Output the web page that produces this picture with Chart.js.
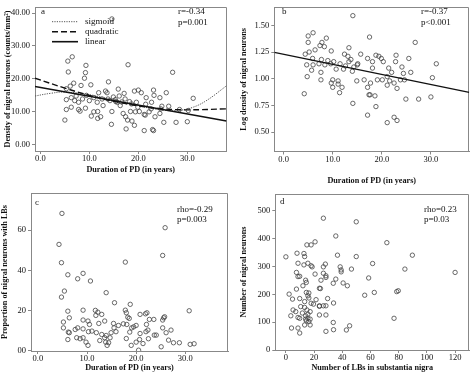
<!DOCTYPE html>
<html>
<head>
<meta charset="utf-8">
<script src="https://cdn.jsdelivr.net/npm/chart.js@4.4.0/dist/chart.umd.min.js"></script>
<style>
  body { margin: 0; background: #fff; width: 474px; height: 373px; position: relative; overflow: hidden; }
  canvas { position: absolute; }
</style>
</head>
<body>
<canvas id="chartA" width="237" height="186" style="left:0;top:0"></canvas>
<canvas id="chartB" width="237" height="186" style="left:237px;top:0"></canvas>
<canvas id="chartC" width="237" height="187" style="left:0;top:186px"></canvas>
<canvas id="chartD" width="237" height="187" style="left:237px;top:186px"></canvas>
<script>
// ---- DATA ----
// (a) duration of PD vs density of nigral neurons
const aDuration = [14.6,6.5,5.6,5.7,9.3,9.2,9.0,17.9,27.0,6.8,8.3,10.3,13.9,5.3,6.1,15.9,17.1,19.2,20.0,20.6,23.1,25.7,5.3,6.3,7.0,7.8,8.6,9.4,10.0,10.9,11.6,12.6,13.3,13.6,13.8,14.9,15.3,15.4,16.6,17.3,18.2,18.6,19.6,21.6,23.2,24.4,31.2,5.3,6.3,8.1,9.2,10.4,10.9,11.7,11.7,12.3,12.8,14.6,16.3,16.9,17.4,17.8,18.4,18.7,19.4,20.2,21.2,21.4,22.2,22.6,23.4,24.4,24.6,24.8,26.2,28.4,5.0,17.5,19.2,21.2,22.9,23.1,14.5,25.2,27.7,30.0,30.2,7.3,11.9,14.2,15.7,19.9,21.5,22.7,16.1,7.8];
const aDensity = [38.2,26.7,25.4,22.1,24.1,21.9,20.2,24.3,22.0,18.7,18.0,18.2,19.1,17.0,17.8,16.9,15.6,16.3,16.6,15.8,16.6,15.8,13.7,14.3,13.4,12.9,13.9,15.0,13.4,14.3,12.9,13.9,16.3,15.8,13.9,14.5,13.7,13.1,13.0,13.9,13.1,12.4,12.9,14.3,15.0,14.3,14.1,10.7,11.4,10.2,11.1,8.7,10.0,10.1,8.0,8.5,11.9,10.1,11.9,9.5,8.5,7.5,10.1,7.2,10.0,10.1,9.2,9.0,10.0,10.9,8.5,9.5,10.9,11.7,11.7,10.7,7.5,4.8,5.9,4.3,4.6,4.3,6.2,6.8,6.8,7.0,10.4,14.8,15.8,13.4,12.9,11.4,12.3,12.9,14.8,10.7];
// fitted curves
const aLinearX = [-1.1, 38];
const aLinearY = [17.7, 7.2];
const aQuadX = [-1.1, 5, 10, 15, 20, 25, 30, 38];
const aQuadY = [20.2, 17.2, 15.0, 13.2, 11.8, 10.9, 10.6, 10.9];
const aSigX = [-1.1, 2, 5, 10, 15, 20, 25, 28, 31, 34, 38];
const aSigY = [14.8, 15.6, 16.0, 15.2, 13.6, 11.8, 10.5, 10.4, 11.3, 13.5, 17.9];

// (b) duration vs log density
const bDuration = [14.1,5.0,6.0,8.7,17.5,26.8,5.0,7.4,7.8,8.3,13.3,4.4,5.2,6.4,9.7,12.4,13.1,15.7,18.8,19.4,19.9,22.9,25.5,5.9,7.7,9.0,13.3,13.7,17.1,18.1,20.3,22.8,31.1,4.7,6.0,7.2,8.4,9.6,10.2,11.5,12.6,14.3,15.0,15.1,21.4,24.1,5.7,7.6,10.7,12.2,14.0,18.1,22.0,25.9,24.4,4.8,7.6,10.0,11.1,14.9,16.4,17.7,19.1,20.1,21.1,21.6,22.5,23.8,24.6,30.3,9.7,11.1,10.0,11.9,17.1,21.1,23.1,4.2,11.4,17.4,17.6,18.6,24.9,27.5,30.0,14.1,18.8,17.1,22.5,21.1,23.1];
const bLogDensity = [1.59,1.40,1.43,1.38,1.39,1.34,1.34,1.31,1.34,1.30,1.29,1.23,1.25,1.27,1.26,1.23,1.21,1.23,1.22,1.21,1.19,1.22,1.19,1.19,1.18,1.17,1.16,1.18,1.19,1.16,1.16,1.16,1.14,1.13,1.13,1.14,1.13,1.14,1.16,1.14,1.12,1.11,1.13,1.14,1.10,1.11,1.08,1.06,1.09,1.09,1.07,1.10,1.06,1.06,1.05,1.02,0.99,0.99,0.98,0.98,0.99,0.96,0.99,0.99,1.02,0.98,0.96,0.99,0.99,1.01,0.96,0.95,0.92,0.92,0.92,0.94,0.91,0.86,0.87,0.85,0.85,0.84,0.81,0.81,0.83,0.77,0.74,0.66,0.64,0.59,0.61];
const bFitX = [-1.9, 37.8];
const bFitY = [1.246, 0.873];

// (c) duration vs proportion of neurons with LBs
const cDuration = [4.9,25.9,4.3,25.4,4.8,17.8,9.2,6.1,8.1,10.7,5.4,13.9,4.8,15.6,18.8,6.1,9.2,11.7,17.8,22.2,30.8,18.0,18.3,11.8,13.0,12.2,20.8,21.9,25.6,25.8,6.4,18.6,22.7,23.6,9.2,25.4,5.2,10.2,13.6,15.4,17.4,18.1,10.5,12.4,16.4,20.0,22.1,5.2,8.1,9.2,7.6,15.5,19.1,19.5,25.4,27.1,6.2,6.4,10.3,11.0,11.9,14.9,15.9,18.7,22.0,22.4,26.1,20.8,13.0,13.9,23.7,24.1,7.9,8.6,9.2,6.1,12.6,13.6,14.7,18.0,20.7,22.5,26.6,13.8,14.4,20.0,21.4,9.8,10.2,14.1,19.0,27.6,28.8,31.0,31.8,25.1,20.5];
const cProportion = [68.3,61.2,52.9,47.4,43.8,44.1,38.5,37.8,35.8,34.7,29.7,28.9,26.7,23.9,23.1,19.7,20.2,20.1,20.2,18.9,19.9,18.9,16.7,17.6,18.1,19.2,18.1,18.4,16.4,16.9,16.4,16.1,15.6,15.6,15.3,15.3,14.3,14.8,14.8,13.6,13.4,13.1,13.1,13.6,12.6,12.6,13.1,11.4,11.4,10.9,10.6,11.4,11.4,11.9,11.4,10.3,9.3,9.0,9.5,9.8,9.0,9.0,9.5,9.3,9.5,10.3,9.0,8.6,8.1,7.6,7.8,7.8,6.5,6.0,6.5,5.6,5.1,6.5,6.5,6.1,5.6,6.0,5.3,4.3,4.0,4.3,3.6,4.3,2.7,2.7,2.7,4.0,4.0,3.2,3.5,2.0,0.3];

// (d) number of LBs vs number of nigral neurons
const dLewyBodies = [26.6,49.9,35.4,71.6,20.7,14.9,17.9,0,36.6,49.9,89.7,7.9,12.8,13.3,8.6,12.8,15.6,17.9,18.6,26.6,28.0,38.5,39.2,46.5,39.2,61.5,84.4,58.7,120,7.5,9.8,8.6,20.7,26.6,28.4,28.4,35.4,24.9,14.0,14.5,12.1,40.6,43.6,33.6,7.5,24.5,23.8,14.5,16.3,62.7,78.6,79.7,2.3,15.6,16.3,29.6,55.9,4.7,9.8,21.4,13.3,17.9,19.6,33.8,23.8,26.6,28.4,23.8,10.5,13.3,14.9,17.2,5.1,7.0,11.7,15.6,23.8,28.4,3.5,14.0,8.6,9.8,14.0,15.6,17.2,76.7,14.5,16.3,33.6,13.3,17.2,4.0,8.6,45.2,9.8,28.4,33.8,42.9];
const dNeurons = [474,461,410,386,389,378,378,335,341,336,341,348,347,336,312,306,312,303,299,299,309,299,288,291,281,311,291,259,279,279,265,264,273,276,267,261,255,251,251,243,231,241,231,240,219,221,222,207,205,207,210,213,201,195,187,185,197,183,185,181,174,168,165,169,159,159,159,157,156,153,144,138,144,138,133,129,126,126,123,123,117,114,111,114,111,114,105,102,99,90,90,79,79,87,61,67,73,72];

// tick values and labels
const durationTicks = [0, 10, 20, 30];
const durationLabels = ['0.0', '10.0', '20.0', '30.0'];
const densityTicks = [0, 10, 20, 30, 40];
const densityLabels = ['0.00', '10.00', '20.00', '30.00', '40.00'];
const logTicks = [0.5, 0.75, 1.0, 1.25, 1.5];
const logLabels = ['0.50', '0.75', '1.00', '1.25', '1.50'];
const propTicks = [0, 20, 40, 60];
const propLabels = ['00', '20', '40', '60'];
const lbTicks = [0, 20, 40, 60, 80, 100, 120];
const lbLabels = ['0', '20', '40', '60', '80', '100', '120'];
const neuronTicks = [0, 100, 200, 300, 400, 500];
const neuronLabels = ['0', '100', '200', '300', '400', '500'];

// ---- HELPERS ----
const serif = "'Liberation Serif', 'Times New Roman', serif";
const pts = (xs, ys) => xs.map((x, i) => ({ x: x, y: ys[i] }));

const scatterSet = (xs, ys) => ({
    data: pts(xs, ys),
    pointRadius: 2.2,
    pointBorderWidth: 0.8,
    pointBorderColor: '#444',
    pointBackgroundColor: 'rgba(0,0,0,0)'
});

const fitSet = (label, xs, ys, style) => Object.assign({
    label: label,
    data: pts(xs, ys),
    showLine: true,
    pointRadius: 0,
    borderColor: '#111',
    borderWidth: 1.4,
    tension: 0.4,
    fill: false
}, style);

const axis = (horizontal, a) => ({
    type: 'linear',
    min: a.min,
    max: a.max,
    afterFit: s => { if (horizontal) s.height = a.size; else s.width = a.size; },
    afterBuildTicks: s => { s.ticks = a.ticks.map(v => ({ value: v })); },
    ticks: {
        autoSkip: false,
        maxRotation: 0,
        padding: horizontal ? 0 : 2,
        color: '#111',
        font: { family: serif, size: 8.5 },
        callback: (v, i) => a.labels[i]
    },
    grid: { drawOnChartArea: false, tickLength: 3, color: '#888' },
    border: { color: '#888', width: 1 },
    title: {
        display: true,
        text: a.title,
        color: '#111',
        font: { family: serif, size: 8.2, weight: 'bold' },
        padding: a.titlePad
    }
});

// draws the box round the plot area
const framePlugin = {
    id: 'frame',
    beforeDatasetsDraw(chart) {
        const { ctx, chartArea: c } = chart;
        ctx.save();
        ctx.strokeStyle = '#888';
        ctx.lineWidth = 1;
        ctx.beginPath();
        ctx.moveTo(Math.round(c.left), Math.round(c.top) + 0.5);
        ctx.lineTo(Math.round(c.right) - 0.5, Math.round(c.top) + 0.5);
        ctx.lineTo(Math.round(c.right) - 0.5, Math.round(c.bottom));
        ctx.stroke();
        ctx.restore();
    }
};

// panel letter, statistics and the key in panel a
const notes = (texts, keys) => ({
    id: 'notes',
    afterDraw(chart) {
        const ctx = chart.ctx;
        ctx.save();
        ctx.fillStyle = '#111';
        ctx.textBaseline = 'middle';
        ctx.textAlign = 'left';
        ctx.font = '9px ' + serif;
        texts.forEach(t => ctx.fillText(t.text, t.x, t.y));
        (keys || []).forEach(k => {
            const ds = chart.data.datasets[k.dataset];
            ctx.strokeStyle = ds.borderColor;
            ctx.lineWidth = ds.borderWidth;
            ctx.setLineDash(ds.borderDash || []);
            ctx.beginPath();
            ctx.moveTo(k.x, k.y);
            ctx.lineTo(k.x + 26, k.y);
            ctx.stroke();
            ctx.setLineDash([]);
            ctx.fillText(ds.label, k.x + 33, k.y);
        });
        ctx.restore();
    }
});

const makePanel = (id, p) => new Chart(document.getElementById(id), {
    type: 'scatter',
    data: { datasets: p.datasets },
    options: {
        responsive: false,
        animation: false,
        layout: { padding: p.padding },
        plugins: { legend: { display: false }, tooltip: { enabled: false } },
        scales: { x: axis(true, p.x), y: axis(false, p.y) }
    },
    plugins: [framePlugin, notes(p.texts, p.keys)]
});

// ---- PANELS ----
makePanel('chartA', {
    padding: { top: 1, right: 10.5, bottom: 0, left: 0 },
    datasets: [
        fitSet('linear', aLinearX, aLinearY, { borderWidth: 1.6, tension: 0 }),
        fitSet('quadratic', aQuadX, aQuadY, { borderDash: [6, 3], borderWidth: 1.4 }),
        fitSet('sigmoid', aSigX, aSigY, { borderDash: [1.2, 1.2], borderWidth: 1, borderColor: '#555' }),
        scatterSet(aDuration, aDensity)
    ],
    x: { min: -1.1, max: 38, size: 35, ticks: durationTicks, labels: durationLabels,
         title: 'Duration of PD (in years)', titlePad: { top: 0, bottom: 11 } },
    y: { min: -1.9, max: 41.8, size: 35, ticks: densityTicks, labels: densityLabels,
         title: 'Density of nigral neurons (counts/mm\u00b2)', titlePad: { top: 3, bottom: 0 } },
    texts: [
        { text: 'a', x: 41, y: 12 },
        { text: 'r=-0.34', x: 178, y: 12 },
        { text: 'p=0.001', x: 178, y: 22.5 }
    ],
    keys: [
        { dataset: 2, x: 52, y: 21.7 },
        { dataset: 1, x: 52, y: 31.7 },
        { dataset: 0, x: 52, y: 41.7 }
    ]
});

makePanel('chartB', {
    padding: { top: 1, right: 4, bottom: 0, left: 0 },
    datasets: [
        fitSet('linear', bFitX, bFitY, { borderWidth: 1.3, tension: 0 }),
        scatterSet(bDuration, bLogDensity)
    ],
    x: { min: -1.9, max: 37.8, size: 34.5, ticks: durationTicks, labels: durationLabels,
         title: 'Duration of PD (in years)', titlePad: { top: 0, bottom: 0 } },
    y: { min: 0.32, max: 1.67, size: 37.3, ticks: logTicks, labels: logLabels,
         title: 'Log density of nigral neurons', titlePad: { top: 2, bottom: 0 } },
    texts: [
        { text: 'b', x: 45, y: 12 },
        { text: 'r=-0.37', x: 184, y: 12 },
        { text: 'p<0.001', x: 184, y: 23 }
    ]
});

makePanel('chartC', {
    padding: { top: 7, right: 9, bottom: 0, left: 0 },
    datasets: [scatterSet(cDuration, cProportion)],
    x: { min: -1.4, max: 38.7, size: 22, ticks: durationTicks, labels: durationLabels,
         title: 'Duration of PD (in years)', titlePad: { top: 0, bottom: 0 } },
    y: { min: -0.1, max: 78.4, size: 31, ticks: propTicks, labels: propLabels,
         title: 'Proportion of nigral neurons with LBs', titlePad: { top: 0, bottom: 0 } },
    texts: [
        { text: 'c', x: 35, y: 17 },
        { text: 'rho=-0.29', x: 177, y: 24 },
        { text: 'p=0.003', x: 177, y: 33.5 }
    ]
});

makePanel('chartD', {
    padding: { top: 8, right: 2, bottom: 0, left: 0 },
    datasets: [scatterSet(dLewyBodies, dNeurons)],
    x: { min: -7.5, max: 130, size: 23, ticks: lbTicks, labels: lbLabels,
         title: 'Number of LBs in substantia nigra', titlePad: { top: 0, bottom: 0 } },
    y: { min: 0, max: 561, size: 38.3, ticks: neuronTicks, labels: neuronLabels,
         title: 'Number of nigral neurons', titlePad: { top: 2.4, bottom: 0 } },
    texts: [
        { text: 'd', x: 43, y: 16 },
        { text: 'rho=0.23', x: 187, y: 24 },
        { text: 'p=0.03', x: 187, y: 33.5 }
    ]
});
</script>
</body>
</html>
